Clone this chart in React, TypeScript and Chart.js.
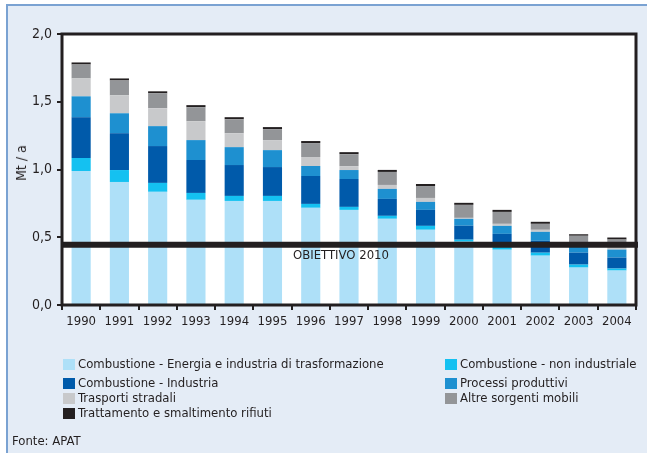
import React, { useEffect, useRef } from "react";
import { Chart, registerables } from "chart.js";

Chart.register(...registerables);

const FONT = "'DejaVu Sans Condensed', 'Liberation Sans Narrow', sans-serif";
const INK = "#231f20";

const YEARS = ["1990", "1991", "1992", "1993", "1994", "1995", "1996", "1997", "1998", "1999", "2000", "2001", "2002", "2003", "2004"];
const ENERGIA = [0.989, 0.908, 0.835, 0.776, 0.768, 0.768, 0.717, 0.702, 0.636, 0.555, 0.467, 0.408, 0.364, 0.276, 0.254];
const NON_INDUSTRIALE = [0.096, 0.088, 0.066, 0.051, 0.037, 0.037, 0.029, 0.022, 0.022, 0.029, 0.015, 0.029, 0.022, 0.022, 0.015];
const INDUSTRIA = [0.301, 0.272, 0.272, 0.243, 0.228, 0.213, 0.206, 0.206, 0.125, 0.118, 0.103, 0.088, 0.088, 0.088, 0.081];
const PROCESSI = [0.154, 0.147, 0.147, 0.147, 0.132, 0.125, 0.074, 0.066, 0.074, 0.059, 0.051, 0.059, 0.066, 0.059, 0.059];
const TRASPORTI = [0.132, 0.132, 0.132, 0.14, 0.103, 0.074, 0.066, 0.029, 0.029, 0.029, 0.007, 0.015, 0.015, 0.007, 0.037];
const ALTRE = [0.103, 0.11, 0.11, 0.103, 0.103, 0.081, 0.103, 0.088, 0.096, 0.088, 0.096, 0.088, 0.044, 0.059, 0.037];
const RIFIUTI = [0.015, 0.015, 0.015, 0.015, 0.015, 0.015, 0.015, 0.015, 0.015, 0.015, 0.015, 0.015, 0.015, 0.011, 0.015];

const OBIETTIVO = 0.445;
const OBIETTIVO_LABEL = "OBIETTIVO 2010";
const Y_TITLE = "Mt / a";
const SOURCE = "Fonte: APAT";

const SERIES = [
  { label: "Combustione - Energia e industria di trasformazione", data: ENERGIA, color: "#aee0f8" },
  { label: "Combustione - non industriale", data: NON_INDUSTRIALE, color: "#14c1f1" },
  { label: "Combustione - Industria", data: INDUSTRIA, color: "#005aaa" },
  { label: "Processi produttivi", data: PROCESSI, color: "#1e90d0" },
  { label: "Trasporti stradali", data: TRASPORTI, color: "#c8c9cb" },
  { label: "Altre sorgenti mobili", data: ALTRE, color: "#939598" },
  { label: "Trattamento e smaltimento rifiuti", data: RIFIUTI, color: INK },
];

// legend layout: [series index, column x, row center y]
const LEGEND_POS: [number, number, number][] = [
  [0, 63, 364],
  [2, 63, 383],
  [4, 63, 398],
  [6, 63, 413],
  [1, 445, 364],
  [3, 445, 383],
  [5, 445, 398],
];

const framePlugin = {
  id: "frame",
  beforeDraw(chart: any) {
    const { ctx, chartArea: a } = chart;
    ctx.save();
    ctx.fillStyle = "#ffffff";
    ctx.fillRect(a.left, a.top, a.right - a.left, a.bottom - a.top);
    ctx.restore();
  },
  afterDatasetsDraw(chart: any) {
    const { ctx, chartArea: a } = chart;
    const y = chart.scales.y.getPixelForValue(OBIETTIVO);
    ctx.save();
    ctx.strokeStyle = INK;
    ctx.lineWidth = 6;
    ctx.beginPath();
    ctx.moveTo(a.left, y);
    ctx.lineTo(a.right + 2, y);
    ctx.stroke();
    ctx.lineWidth = 3;
    ctx.strokeRect(a.left, a.top, a.right - a.left, a.bottom - a.top);
    ctx.fillStyle = INK;
    ctx.font = `13px ${FONT}`;
    ctx.textAlign = "center";
    ctx.textBaseline = "middle";
    ctx.fillText(OBIETTIVO_LABEL, a.left + 0.486 * (a.right - a.left), y + 11);
    ctx.restore();
  },
};

export default function App() {
  const ref = useRef<HTMLCanvasElement>(null);
  useEffect(() => {
    const chart = new Chart(ref.current!, {
      type: "bar",
      data: {
        labels: YEARS,
        datasets: SERIES.map((s) => ({
          label: s.label,
          data: s.data,
          backgroundColor: s.color,
          borderWidth: 0,
          barPercentage: 0.5,
          categoryPercentage: 1,
        })),
      },
      options: {
        responsive: false,
        animation: false,
        layout: { padding: { left: 0, top: 34, right: 11, bottom: 118 } },
        plugins: { legend: { display: false }, tooltip: { enabled: false } },
        scales: {
          x: {
            stacked: true,
            border: { display: false },
            grid: { display: true, drawOnChartArea: false, drawTicks: true, tickLength: 5, color: INK, lineWidth: 2, offset: true },
            ticks: { color: INK, font: { family: FONT, size: 13 }, padding: 4, maxRotation: 0 },
            afterFit: (s: any) => { s.height = 30; },
          },
          y: {
            stacked: true,
            min: 0,
            max: 2,
            border: { display: false },
            grid: { display: true, drawOnChartArea: false, drawTicks: true, tickLength: 5, color: INK, lineWidth: 2 },
            ticks: {
              stepSize: 0.5,
              color: INK,
              padding: 5,
              font: { family: FONT, size: 14 },
              callback: (v: any) => Number(v).toFixed(1).replace(".", ","),
            },
            afterFit: (s: any) => { s.width = 62; },
          },
        },
      },
      plugins: [framePlugin],
    });
    return () => chart.destroy();
  }, []);

  return (
    <div style={{ position: "absolute", left: 0, top: 0, width: 647, height: 453, overflow: "hidden", background: "#ffffff", fontFamily: FONT, color: INK }}>
      <div style={{ position: "absolute", left: 6, top: 4, width: 700, height: 500, background: "#e4ecf6", borderLeft: "2px solid #7aa2d2", borderTop: "2px solid #7aa2d2" }} />
      <canvas ref={ref} width={647} height={453} style={{ position: "absolute", left: 0, top: 0, width: 647, height: 453 }} />
      <div style={{ position: "absolute", left: 21, top: 163, transform: "translate(-50%, -50%) rotate(-90deg)", fontSize: 14, whiteSpace: "nowrap", lineHeight: "16px" }}>{Y_TITLE}</div>
      {LEGEND_POS.map(([i, x, y]) => (
        <div key={i} style={{ position: "absolute", left: x, top: y - 8, height: 16, display: "flex", alignItems: "center", whiteSpace: "nowrap", fontSize: 13, lineHeight: "16px" }}>
          <span style={{ display: "inline-block", width: 12, height: 11, background: SERIES[i].color, marginRight: 3 }} />
          <span>{SERIES[i].label}</span>
        </div>
      ))}
      <div style={{ position: "absolute", left: 12, top: 432, fontSize: 13, lineHeight: "18px", whiteSpace: "nowrap" }}>{SOURCE}</div>
    </div>
  );
}
